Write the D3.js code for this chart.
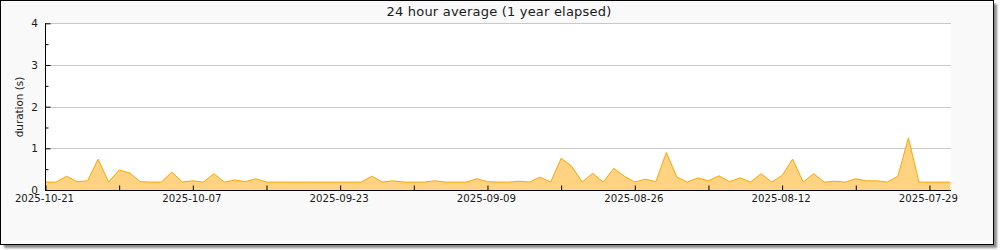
<!DOCTYPE html>
<html>
<head>
<meta charset="utf-8">
<script src="https://cdn.jsdelivr.net/npm/d3@7"></script>
<style>
  html, body { margin: 0; padding: 0; background: #ffffff; }
  svg { display: block; }
  text { font-family: "DejaVu Sans", sans-serif; fill: #1a1a1a; }
</style>
</head>
<body>
<svg id="chart" width="1000" height="250"></svg>
<script>
// ---- data ----
const title = "24 hour average (1 year elapsed)";
const yTitle = "duration (s)";
const firstDay = "2025-10-21";   // left edge (newest)
const lastDay = "2025-07-27";    // right edge (oldest)
// daily 24h average durations, newest (2025-10-21) to oldest (2025-07-27)
const values = [
  0.19, 0.19, 0.33, 0.20, 0.22, 0.74, 0.19, 0.48, 0.41, 0.20,
  0.19, 0.19, 0.43, 0.19, 0.22, 0.19, 0.39, 0.19, 0.24, 0.20,
  0.27, 0.19, 0.19, 0.19, 0.19, 0.19, 0.19, 0.19, 0.19, 0.19,
  0.19, 0.33, 0.19, 0.22, 0.19, 0.19, 0.19, 0.22, 0.19, 0.19,
  0.19, 0.27, 0.20, 0.19, 0.19, 0.21, 0.19, 0.31, 0.19, 0.76,
  0.57, 0.19, 0.40, 0.19, 0.52, 0.33, 0.19, 0.26, 0.20, 0.90,
  0.31, 0.19, 0.29, 0.22, 0.34, 0.20, 0.29, 0.19, 0.39, 0.19,
  0.35, 0.74, 0.19, 0.39, 0.19, 0.21, 0.19, 0.27, 0.22, 0.22,
  0.19, 0.33, 1.25, 0.19, 0.19, 0.19, 0.19
];
const xTickLabels = ["2025-10-21", "2025-10-07", "2025-09-23", "2025-09-09", "2025-08-26", "2025-08-12", "2025-07-29"];
const xMinorTicks = ["2025-10-14", "2025-09-30", "2025-09-16", "2025-09-02", "2025-08-19", "2025-08-05"];
const yTicks = [0, 1, 2, 3, 4];
const yMinorTicks = [0.5, 1.5, 2.5, 3.5];

// ---- setup ----
const parse = d3.utcParse("%Y-%m-%d");
const fmt = d3.utcFormat("%Y-%m-%d");
const start = parse(firstDay), end = parse(lastDay);
// daily categories from newest to oldest
const days = d3.utcDay.range(end, d3.utcDay.offset(start, 1)).reverse();
const data = days.map((d, i) => ({ date: d, value: values[i] }));

const svg = d3.select("#chart");
const plot = { left: 45, right: 951, top: 23, bottom: 190 };

// frame with shadow
const defs = svg.append("defs");
defs.append("filter").attr("id", "blur")
  .attr("x", "-5%").attr("y", "-5%").attr("width", "110%").attr("height", "110%")
  .append("feGaussianBlur").attr("stdDeviation", 1.2);
svg.append("rect").attr("x", 4).attr("y", 4).attr("width", 993).attr("height", 244)
  .attr("fill", "#8a8a8a").attr("filter", "url(#blur)");
svg.append("rect").attr("x", 0.5).attr("y", 0.5).attr("width", 993).attr("height", 244)
  .attr("fill", "#f9f9f9").attr("stroke", "#000").attr("stroke-width", 1);

// plot background
svg.append("rect").attr("x", plot.left).attr("y", plot.top)
  .attr("width", plot.right - plot.left).attr("height", plot.bottom - plot.top)
  .attr("fill", "#ffffff");

const x = d3.scaleUtc().domain([start, end]).range([plot.left + 0.5, plot.right - 0.5]);
const y = d3.scaleLinear().domain([0, 4]).range([plot.bottom, plot.top + 0.3]);

// gridlines
svg.append("g").selectAll("line").data(yTicks.filter(v => v > 0)).join("line")
  .attr("x1", plot.left).attr("x2", plot.right)
  .attr("y1", d => Math.round(y(d)) + 0.5).attr("y2", d => Math.round(y(d)) + 0.5)
  .attr("stroke", "#c8c8c8").attr("stroke-width", 1);

// area
const area = d3.area().x(d => x(d.date)).y0(y(0)).y1(d => y(d.value));
const line = d3.line().x(d => x(d.date)).y(d => y(d.value));
svg.append("path").datum(data).attr("d", area).attr("fill", "#ffd382");
svg.append("path").datum(data).attr("d", line).attr("fill", "none")
  .attr("stroke", "#ffa500").attr("stroke-width", 1);

// x axis
const xAxis = d3.axisBottom(x)
  .tickValues(xTickLabels.concat(xMinorTicks).map(parse))
  .tickFormat(d => xTickLabels.includes(fmt(d)) ? fmt(d) : "")
  .tickSizeInner(-5).tickSizeOuter(0).tickPadding(4.5);
const gx = svg.append("g").attr("transform", `translate(0,${plot.bottom + 0.5})`).call(xAxis);
gx.select(".domain").attr("stroke", "#000").attr("d", `M${plot.left},0H${plot.right}`);
gx.selectAll(".tick line").attr("stroke", "#000");
gx.selectAll(".tick text").attr("dx", -1.5)
  .style("font-size", "10.2px").style("font-family", "DejaVu Sans").attr("fill", "#1a1a1a");

// y axis
const yAxis = d3.axisLeft(y).tickValues(yTicks).tickFormat(d3.format("d"))
  .tickSizeInner(-5).tickSizeOuter(0).tickPadding(7.5);
const gy = svg.append("g").attr("transform", `translate(${plot.left + 0.5},0)`).call(yAxis);
gy.select(".domain").attr("stroke", "#000").attr("d", `M0,${plot.top}V${plot.bottom + 0.5}`);
gy.selectAll(".tick line").attr("stroke", "#000");
gy.selectAll(".tick text").style("font-size", "10.5px").style("font-family", "DejaVu Sans").attr("fill", "#1a1a1a");
const yMinor = d3.axisLeft(y).tickValues(yMinorTicks).tickFormat("").tickSizeInner(-3).tickSizeOuter(0);
const gym = svg.append("g").attr("transform", `translate(${plot.left + 0.5},0)`).call(yMinor);
gym.select(".domain").remove();
gym.selectAll(".tick line").attr("stroke", "#000");

// titles
svg.append("text").attr("x", 499).attr("y", 15.5).attr("text-anchor", "middle")
  .style("font-size", "13px").style("letter-spacing", "0.2px").text(title);
svg.append("text").attr("transform", "translate(22.5,107) rotate(-90)")
  .attr("text-anchor", "middle").style("font-size", "10.4px").text(yTitle);
</script>
</body>
</html>
